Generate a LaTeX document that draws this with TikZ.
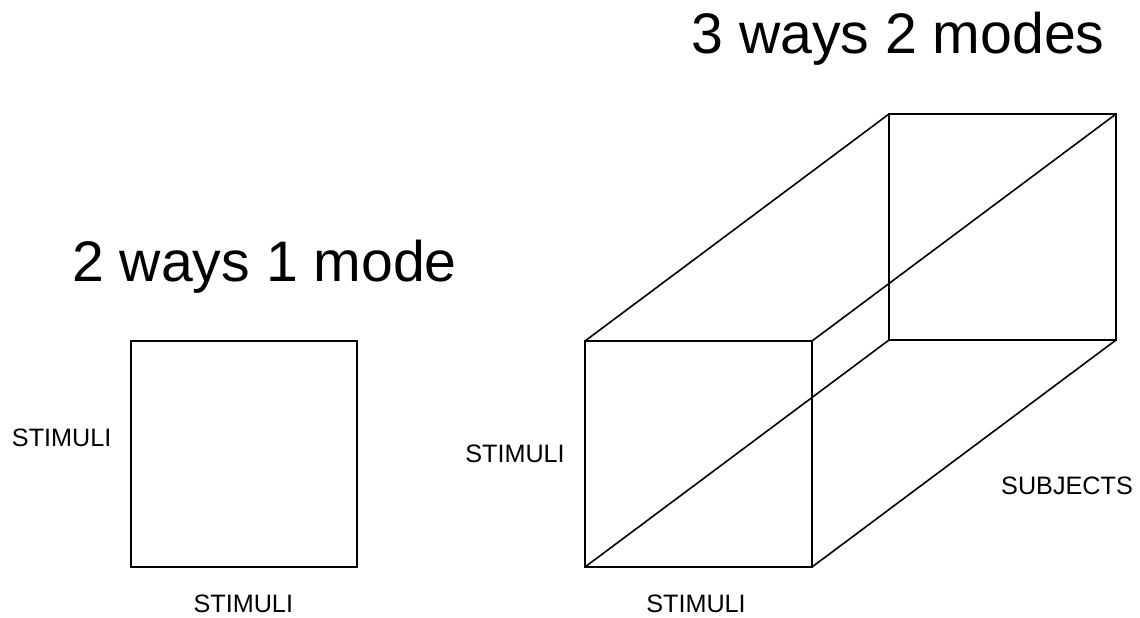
\documentclass[tikz,border=0pt]{standalone}
\usepackage{fontspec}
\setmainfont{Liberation Sans}
\usetikzlibrary{calc}
\tikzset{caption/.style={font=\fontsize{28.6}{32}\selectfont,anchor=base},
  axlabel/.style={font=\fontsize{12.6}{14}\selectfont,anchor=base}}

\begin{document}
\begin{tikzpicture}[x=0.5pt,y=-0.5pt,line width=0.8pt]
\useasboundingbox (0,0) rectangle (1140,617);
% 2 ways 1 mode
\draw (131,341) rectangle (357,567);
\node[caption] (two) at (264.5,281.5){2 ways 1 mode};
\node[axlabel] (rowA) at (61.7,446){STIMULI};
\node[axlabel] (colA) at (243.3,612){STIMULI};
% 3 ways 2 modes
\coordinate (d) at (304,-227);
\coordinate (fbl) at (585,567);\coordinate (fbr) at (812,567);
\coordinate (ftr) at (812,341);\coordinate (ftl) at (585,341);
\draw (fbl)--(fbr)--(ftr)--(ftl)--cycle;
\draw ($(fbl)+(d)$)--($(fbr)+(d)$)--($(ftr)+(d)$)--($(ftl)+(d)$)--cycle;
\foreach \c in {fbl,fbr,ftr,ftl} \draw (\c)--($(\c)+(d)$);
\node[caption] (three) at (898,53.3){3 ways 2 modes};
\node[axlabel] (rowB) at (515,462.7){STIMULI};
\node[axlabel] (colB) at (696,612){STIMULI};
\node[axlabel] (depB) at (1067,494){SUBJECTS};
\end{tikzpicture}
\end{document}
